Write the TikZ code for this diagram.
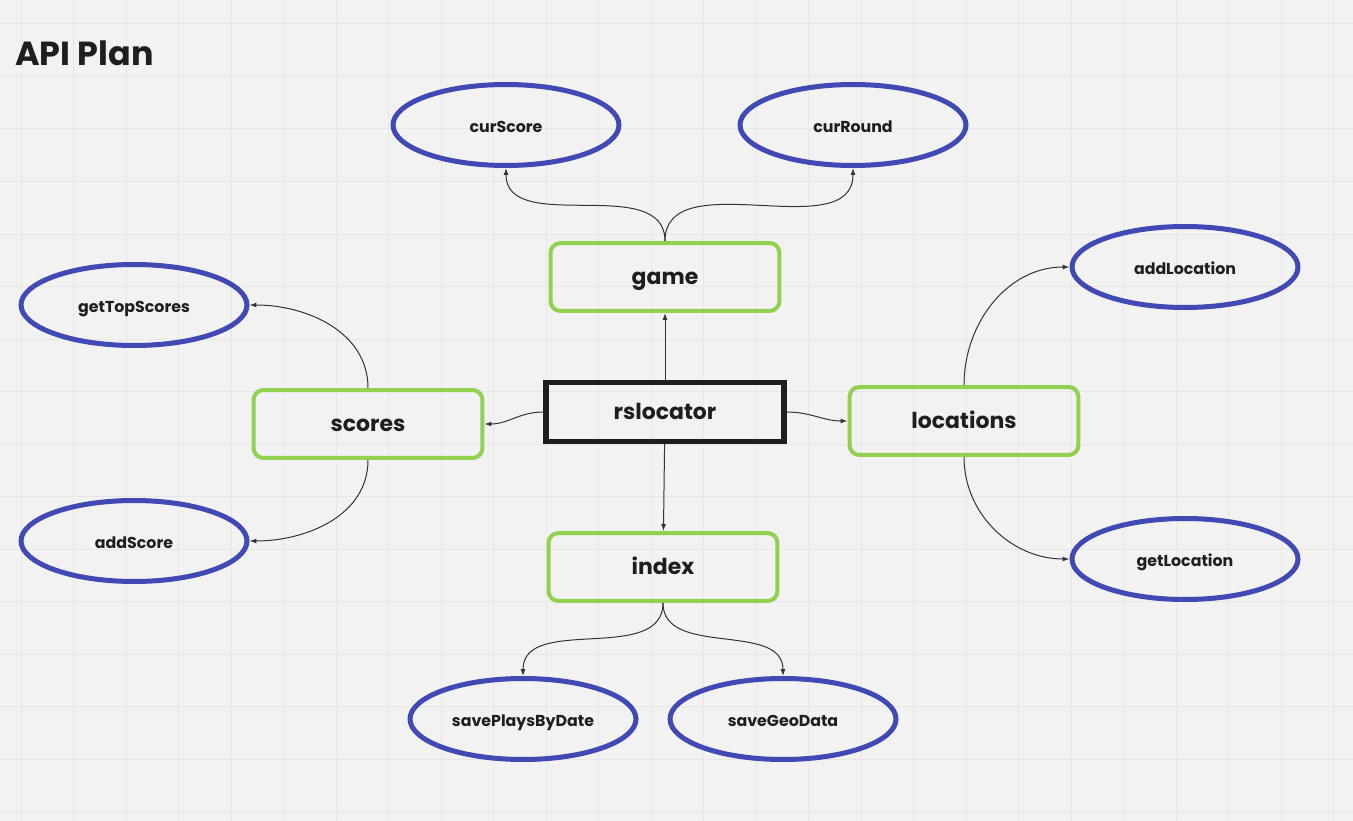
\documentclass[tikz,border=0pt]{standalone}
\usepackage{fontspec}
\setmainfont{Poppins}
\usetikzlibrary{shapes.geometric,arrows.meta,positioning}
\definecolor{ovalblue}{HTML}{4149B4}
\definecolor{modgreen}{HTML}{92D050}
\definecolor{rootblack}{HTML}{1E1E1E}
\definecolor{paper}{HTML}{F2F2F2}
\definecolor{gridgray}{HTML}{E7E7E7}
\definecolor{linkgray}{HTML}{333333}
\begin{document}
\begin{tikzpicture}[x=0.02cm,y=0.02cm,
	label text/.style={text=rootblack,text height=0.86em,text depth=0pt},
	func/.style={ellipse,draw=ovalblue,line width=1mm,minimum width=4.52cm,minimum height=1.62cm,label text,font=\bfseries\fontsize{9}{9}\selectfont},
	module/.style={rounded corners=2mm,draw=modgreen,line width=0.8mm,minimum width=4.58cm,minimum height=1.36cm,label text,font=\bfseries\fontsize{12.5}{12.5}\selectfont},
	link/.style={-{Latex[length=1.4mm,width=1mm]},draw=linkgray,line width=0.2mm}]

	\fill[paper] (0,0) rectangle (1353,-821);
	\useasboundingbox (0,0) rectangle (1353,-821);
	\foreach \k in {0,...,25}
		\draw[gridgray,line width=0.2mm] (21+52.5*\k,0) -- (21+52.5*\k,-821);
	\foreach \k in {0,...,15}
		\draw[gridgray,line width=0.2mm] (0,-24-52.5*\k) -- (1353,-24-52.5*\k);

	\node[anchor=west,inner sep=0pt,text=rootblack,font=\bfseries\fontsize{19}{19}\selectfont] (title) at (15,-53) {API Plan};

	\node[draw=rootblack,line width=1.1mm,minimum width=4.76cm,minimum height=1.18cm,label text,font=\bfseries\fontsize{12.5}{12.5}\selectfont] (root) at (665,-412) {rslocator};

	\node[module] (game) at (665,-277) {game};
	\node[module] (scores) at (368,-424) {scores};
	\node[module] (locations) at (964,-421) {locations};
	\node[module] (index) at (663,-567) {index};

	\node[func] (curScore) at (506,-125) {curScore};
	\node[func] (curRound) at (853,-125) {curRound};
	\node[func] (getTopScores) at (134,-305) {getTopScores};
	\node[func] (addScore) at (134,-541) {addScore};
	\node[func] (addLocation) at (1185,-267) {addLocation};
	\node[func] (getLocation) at (1185,-559) {getLocation};
	\node[func] (savePlaysByDate) at (523,-719) {savePlaysByDate};
	\node[func] (saveGeoData) at (783,-719) {saveGeoData};

	\path (root) edge[link] (game);
	\path (root) edge[link] (index);
	\path (root.west) edge[link,out=180,in=0] (scores.east);
	\path (root.east) edge[link,out=0,in=180] (locations.west);

	\path (game.north) edge[link,out=90,in=-90] (curScore.south);
	\path (game.north) edge[link,out=90,in=-90] (curRound.south);
	\path (scores.north) edge[link,out=90,in=0] (getTopScores.east);
	\path (scores.south) edge[link,out=-90,in=0] (addScore.east);
	\path (locations.north) edge[link,out=90,in=180] (addLocation.west);
	\path (locations.south) edge[link,out=-90,in=180] (getLocation.west);
	\path (index.south) edge[link,out=-90,in=90] (savePlaysByDate.north);
	\path (index.south) edge[link,out=-90,in=90] (saveGeoData.north);

\end{tikzpicture}
\end{document}
